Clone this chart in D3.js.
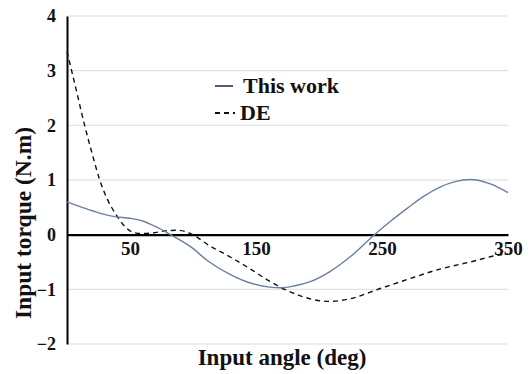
<!DOCTYPE html>
<html>
<head>
<meta charset="utf-8">
<script src="https://cdn.jsdelivr.net/npm/d3@7"></script>
<style>
  body { margin: 0; background: #fff; }
  svg text { font-family: "Liberation Serif", "Times New Roman", serif; font-weight: bold; }
</style>
</head>
<body>
<div id="chart"></div>
<script>
// angle (deg) vs torque (N.m)
const thisWorkAngle = [0, 12, 25, 38, 50, 60, 70, 82, 98, 113, 129, 145, 161, 170, 180, 193, 209, 225, 244, 257, 270, 283, 296, 308, 320, 336, 350];
const thisWorkTorque = [0.6, 0.5, 0.4, 0.33, 0.3, 0.25, 0.15, 0, -0.22, -0.5, -0.72, -0.88, -0.96, -0.97, -0.94, -0.86, -0.67, -0.4, 0, 0.25, 0.48, 0.7, 0.87, 0.97, 1.01, 0.93, 0.77];

const deAngle = [0, 7, 14, 20, 26, 32, 38, 44, 50, 58, 68, 78, 88, 98, 113, 129, 145, 160, 170, 183, 196, 209, 225, 248, 270, 296, 320, 341, 350];
const deTorque = [3.35, 2.68, 2.0, 1.48, 1.0, 0.65, 0.4, 0.2, 0.07, 0.02, 0.03, 0.07, 0.08, 0.02, -0.2, -0.4, -0.62, -0.84, -0.97, -1.1, -1.19, -1.22, -1.17, -0.99, -0.82, -0.63, -0.5, -0.38, -0.35];

const xTicks = [50, 150, 250, 350];
const yTicks = [-2, -1, 0, 1, 2, 3, 4];
const seriesNames = ['This work', 'DE'];

const width = 529, height = 374;
const x = d3.scaleLinear().domain([0, 350]).range([67, 508]);
const y = d3.scaleLinear().domain([-2, 4]).range([344, 16]);

const svg = d3.select('#chart').append('svg')
  .attr('width', width)
  .attr('height', height);

// gridlines
svg.append('g')
  .selectAll('line')
  .data(yTicks.filter(v => v !== 0))
  .enter().append('line')
  .attr('x1', x(0)).attr('x2', x(350))
  .attr('y1', d => y(d)).attr('y2', d => y(d))
  .attr('stroke', '#dcdcdc')
  .attr('stroke-width', 1);

// y axis
const yAxis = svg.append('g')
  .attr('transform', `translate(${x(0)},0)`)
  .call(d3.axisLeft(y).tickValues(yTicks).tickSize(0).tickPadding(11).tickFormat(d3.format('d')));
yAxis.select('.domain').attr('stroke', '#000').attr('stroke-width', 2);
yAxis.selectAll('text')
  .attr('font-size', 18)
  .attr('fill', '#111');

// zero line as x axis
const xAxis = svg.append('g')
  .attr('transform', `translate(0,${y(0)})`)
  .call(d3.axisBottom(x).tickValues(xTicks).tickSize(0).tickPadding(7).tickFormat(d3.format('d')));
xAxis.select('.domain').attr('stroke', '#000').attr('stroke-width', 2.2);
xAxis.selectAll('text')
  .attr('font-size', 19)
  .attr('fill', '#111');

const line = d3.line()
  .x(d => x(d[0]))
  .y(d => y(d[1]))
  .curve(d3.curveMonotoneX);

svg.append('path')
  .datum(deAngle.map((a, i) => [a, deTorque[i]]))
  .attr('d', line)
  .attr('fill', 'none')
  .attr('stroke', '#111')
  .attr('stroke-width', 1.4)
  .attr('stroke-dasharray', '5,4');

svg.append('path')
  .datum(thisWorkAngle.map((a, i) => [a, thisWorkTorque[i]]))
  .attr('d', line)
  .attr('fill', 'none')
  .attr('stroke', '#6a7f9f')
  .attr('stroke-width', 1.4);

// legend
const legend = svg.append('g');
legend.append('line')
  .attr('x1', 215).attr('x2', 233).attr('y1', 86).attr('y2', 86)
  .attr('stroke', '#4f607e').attr('stroke-width', 2);
legend.append('line')
  .attr('x1', 215).attr('x2', 235).attr('y1', 113).attr('y2', 113)
  .attr('stroke', '#111').attr('stroke-width', 2)
  .attr('stroke-dasharray', '5,4');
legend.selectAll('text')
  .data(seriesNames)
  .enter().append('text')
  .attr('x', (d, i) => i === 0 ? 243 : 240)
  .attr('y', (d, i) => i === 0 ? 93 : 120)
  .attr('font-size', 22)
  .attr('fill', '#111')
  .text(d => d);

// axis titles
svg.append('text')
  .attr('x', 282).attr('y', 365)
  .attr('text-anchor', 'middle')
  .attr('font-size', 23)
  .attr('fill', '#111')
  .text('Input angle (deg)');

svg.append('text')
  .attr('transform', 'translate(31,223) rotate(-90)')
  .attr('text-anchor', 'middle')
  .attr('font-size', 23.5)
  .attr('fill', '#111')
  .text('Input torque (N.m)');
</script>
</body>
</html>
